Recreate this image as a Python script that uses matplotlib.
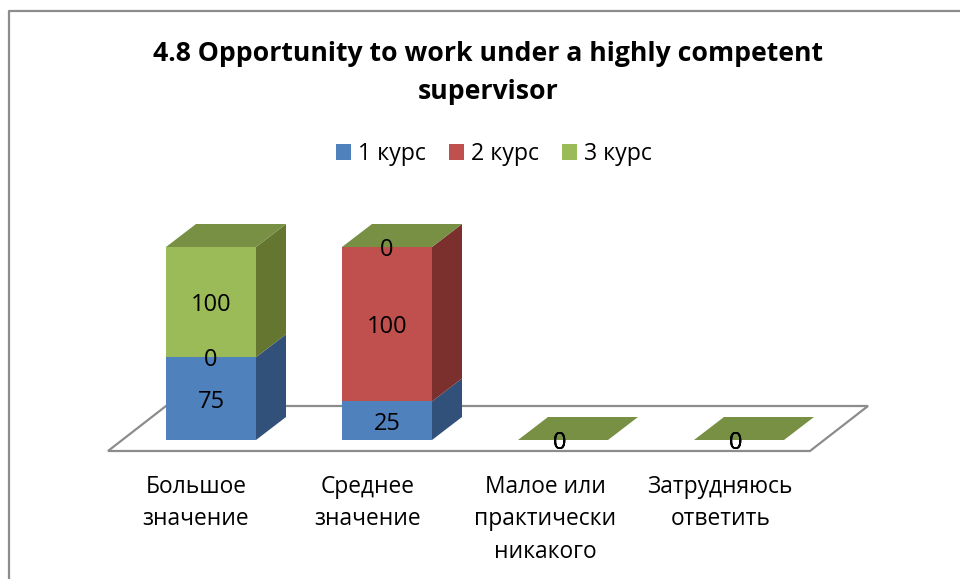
import numpy as np
import matplotlib
matplotlib.use('Agg')
from matplotlib import pyplot as plt
from matplotlib.patches import Polygon, Patch

categories = ['Большое\nзначение', 'Среднее\nзначение', 'Малое или\nпрактически\nникакого', 'Затрудняюсь\nответить']
series_names = ['1 курс', '2 курс', '3 курс']
kurs1 = [75, 25, 0, 0]
kurs2 = [0, 100, 0, 0]
kurs3 = [100, 0, 0, 0]

front_cols = ['#4F81BD', '#C0504D', '#9BBB59']
side_cols = ['#31507A', '#7B302E', '#64762F']
top_col = '#779044'

plt.rcParams['font.family'] = ['Open Sans', 'DejaVu Sans']

W, H = 960, 579
fig = plt.figure(figsize=(W / 100, H / 100), dpi=100)
ax = fig.add_axes([0, 0, 1, 1])

# one category = 176 px, 1 percent = 1.93 px, first bar centre at x=211, baseline at y=440
ux, uy = 176.0, 1.93
ax.set_xlim(-211 / ux, (W - 211) / ux)
ax.set_ylim(-(H - 440) / uy, 440 / uy)
ax.axis('off')

bar_w = 90 / ux
dx, dy = 30 / ux, 23 / uy

# floor
fx0, fx1 = -103 / ux, 599 / ux
fy0 = -11 / uy
fdx, fdy = 58 / ux, 45 / uy
ax.add_patch(Polygon([(fx0, fy0), (fx1, fy0), (fx1 + fdx, fy0 + fdy), (fx0 + fdx, fy0 + fdy)],
                     closed=True, fc='white', ec='#8C8C8C', lw=1.6, zorder=1))

vals = np.array([kurs1, kurs2, kurs3], dtype=float)
totals = vals.sum(axis=0)
pct = np.divide(vals, totals, out=np.zeros_like(vals), where=totals > 0) * 100

x = np.arange(len(categories))
bottom = np.zeros(len(categories))
for s in range(3):
    ax.bar(x, pct[s], bar_w, bottom=bottom, color=front_cols[s], lw=0, zorder=3)
    for i in x:
        if pct[s][i] > 0:
            b, t = bottom[i], bottom[i] + pct[s][i]
            r = i + bar_w / 2
            ax.add_patch(Polygon([(r, b), (r + dx, b + dy), (r + dx, t + dy), (r, t)],
                                 closed=True, fc=side_cols[s], lw=0, zorder=2))
    bottom = bottom + pct[s]

# top faces, also on the empty categories
for i in x:
    l, r, t = i - bar_w / 2, i + bar_w / 2, bottom[i]
    ax.add_patch(Polygon([(l, t), (r, t), (r + dx, t + dy), (l + dx, t + dy)],
                         closed=True, fc=top_col, lw=0, zorder=2))

# value labels
bottom = np.zeros(len(categories))
for s in range(3):
    for i in x:
        off = -0.02 if totals[i] == 0 else 0
        ax.text(i + off, bottom[i] + pct[s][i] / 2 - 1.5, '%d' % vals[s][i], ha='center', va='center',
                fontsize=17, color='black', zorder=5)
    bottom = bottom + pct[s]

# category labels
label_shift = [0, -3, 0, 0]
for i in x:
    ax.text(i * 0.993 + (label_shift[i] - 15) / ux, -35 / uy, categories[i], ha='center', va='top',
            fontsize=16.4, linespacing=1.46, color='black')

fig.text(488 / W, 1 - 73 / H, '4.8 Opportunity to work under a highly competent\nsupervisor',
         ha='center', va='center', fontsize=19.2, fontweight='bold', linespacing=1.6, color='black')

handles = [Patch(fc=c, lw=0) for c in front_cols]
fig.legend(handles, series_names, ncols=3, loc='center', bbox_to_anchor=(494 / W, 1 - 154 / H),
           frameon=False, fontsize=16.7, handlelength=0.65, handleheight=0.65, handletextpad=0.3,
           columnspacing=1.0, borderpad=0)

# chart frame
ax.plot([9 / W, 9 / W, 1], [0, 1 - 11 / H, 1 - 11 / H], transform=ax.transAxes,
        color='#8C8C8C', lw=1.6, clip_on=False, zorder=0)

fig.savefig('out.png', dpi=100)
